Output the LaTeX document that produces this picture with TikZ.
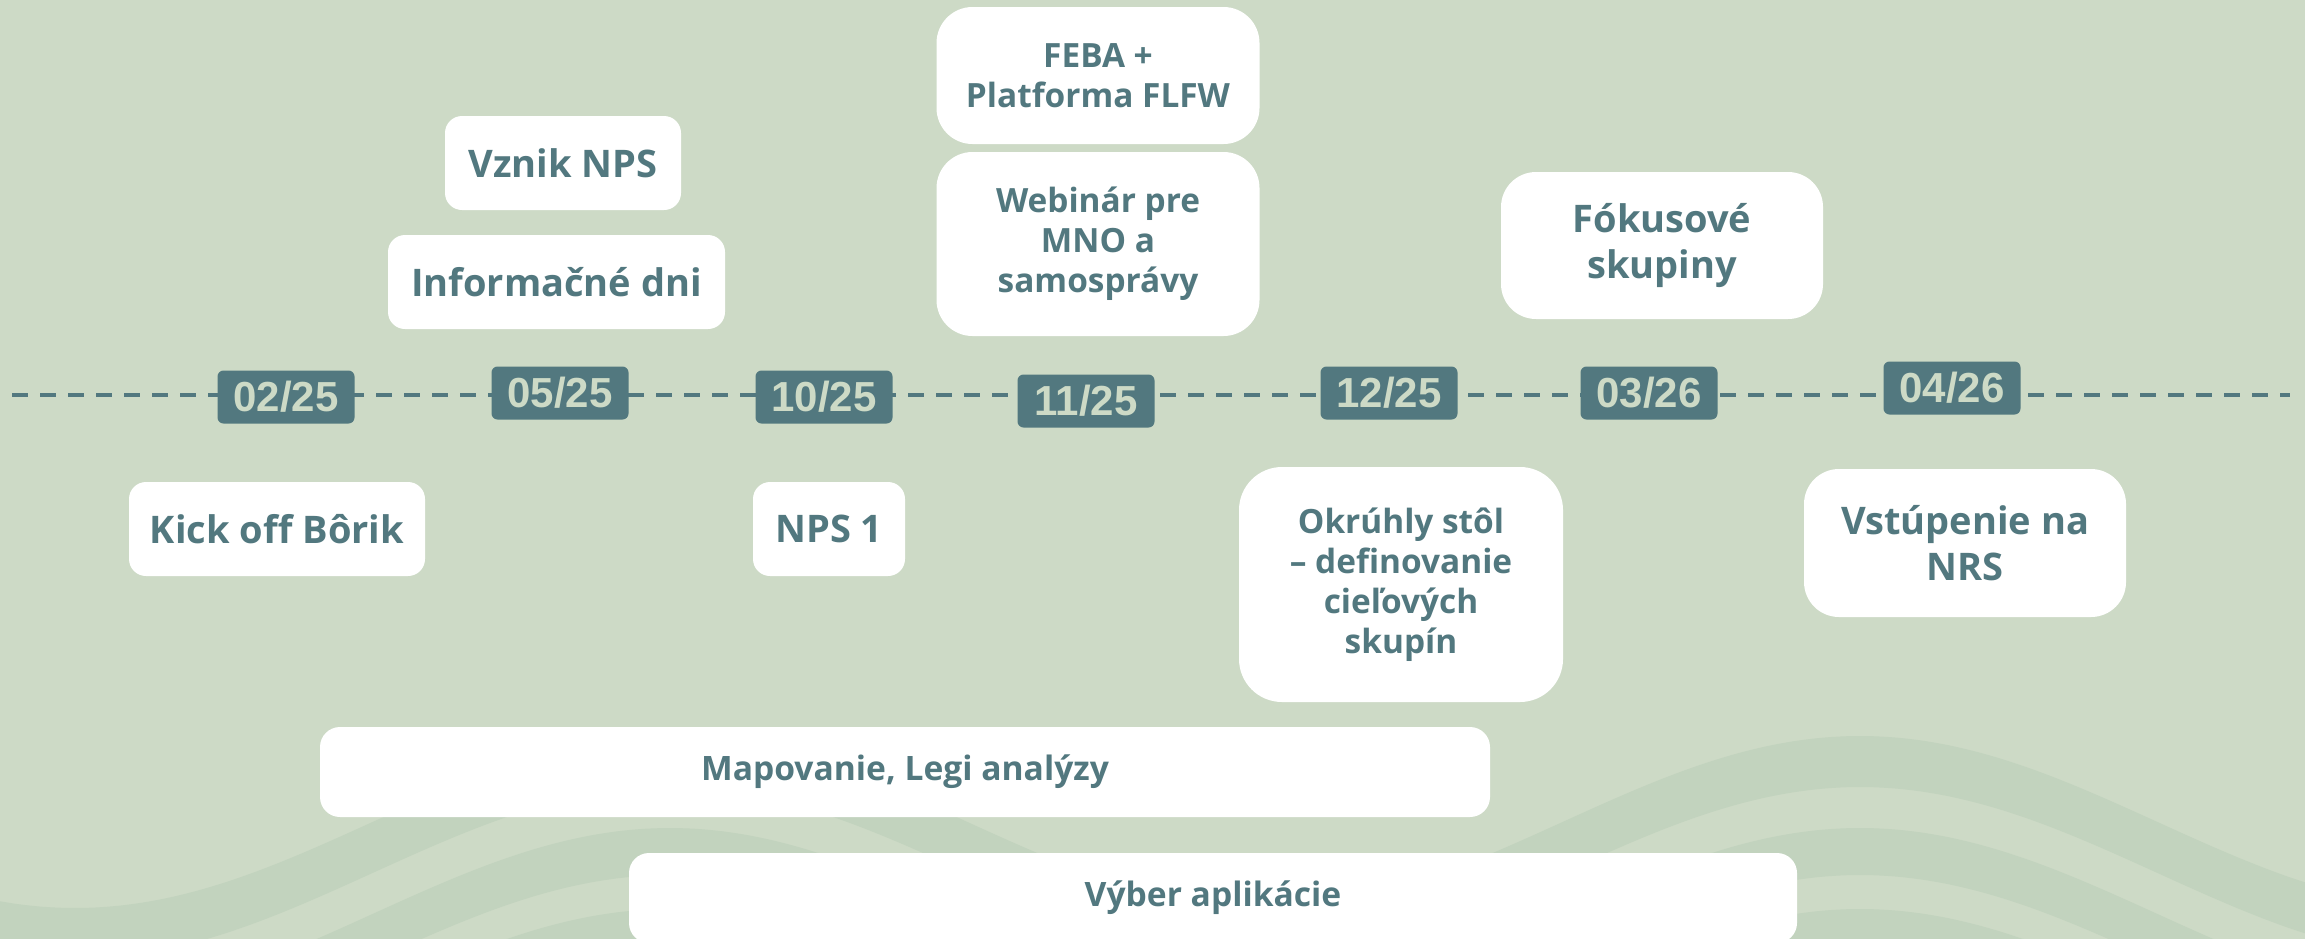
\documentclass[tikz,border=0pt]{standalone}
\usepackage{fontspec}
\setmainfont{Open Sans}
\newfontfamily\datefont{Liberation Sans}
\usetikzlibrary{calc}

\definecolor{bggreen}{HTML}{CDDAC6}
\definecolor{wavegreen}{HTML}{C2D3BE}
\definecolor{slateteal}{HTML}{52787F}

\begin{document}
\begin{tikzpicture}[x=0.5pt,y=-0.5pt]

		\tikzstyle{every node}=[text=slateteal]
		\tikzstyle{event}=[fill=white, rounded corners=8.5pt, align=center, inner sep=0pt, font=\fontsize{19}{23}\selectfont\bfseries]
		\tikzstyle{bigevent}=[event, rounded corners=18pt, font=\fontsize{16.7}{20}\selectfont\bfseries]
		\tikzstyle{barbox}=[event, rounded corners=10pt, font=\fontsize{16.8}{20}\selectfont\bfseries]
		\tikzstyle{datebox}=[fill=slateteal, text=bggreen, rounded corners=3pt, minimum width=68.5pt, minimum height=26.5pt, inner sep=0pt, font=\datefont\fontsize{21}{24}\selectfont\bfseries]

		\useasboundingbox (0,0) rectangle (2305,938);
		\fill[bggreen] (-10,-10) rectangle (2315,948);

		% waves in the background
		\begin{scope}
		\clip (-10,-10) rectangle (2315,948);
		\foreach \a/\b in {0/51, 92/139, 173/260}
			\fill[wavegreen] plot[domain=-10:2315, samples=90, smooth] (\x,{822-86*cos(0.30252*(\x-670))+\a})
				-- plot[domain=2315:-10, samples=90, smooth] (\x,{822-86*cos(0.30252*(\x-670))+\b}) -- cycle;
		\end{scope}

		%\draw[style=help lines, step=100, color=gray] (0,0) grid (2305,938);

		% timeline
		\coordinate (tlstart) at (12,395);
		\coordinate (tlend) at (2290,395);
		\draw[slateteal, line width=2pt, dash pattern=on 8pt off 6pt] (tlstart) -- (tlend);

		\node[datebox] (d0225) at (286,397) {02/25};
		\node[datebox] (d0525) at (560,393) {05/25};
		\node[datebox] (d1025) at (824,397) {10/25};
		\node[datebox] (d1125) at (1086,401) {11/25};
		\node[datebox] (d1225) at (1389,393) {12/25};
		\node[datebox] (d0326) at (1649,393) {03/26};
		\node[datebox] (d0426) at (1952,388) {04/26};

		% events above the line
		\node[event, minimum width=118pt, minimum height=47pt] (vznik) at (563,163) {Vznik NPS};
		\node[event, minimum width=168.5pt, minimum height=47pt] (info) at (556.5,282) {Informačné dni};
		\node[bigevent, minimum width=161.5pt, minimum height=68.5pt] (feba) at (1098,75.5) {FEBA +\\Platforma FLFW};
		\node[bigevent, minimum width=161.5pt, minimum height=92pt] (webinar) at (1098,244) {Webinár pre\\MNO a\\samosprávy};
		\node[event, rounded corners=17.5pt, minimum width=161pt, minimum height=73.5pt] (fokus) at (1662,245.5) {Fókusové\\skupiny};

		% events below the line
		\node[event, minimum width=148pt, minimum height=47pt] (kickoff) at (277,529) {Kick off Bôrik};
		\node[event, minimum width=76pt, minimum height=47pt] (nps1) at (829,529) {NPS 1};
		\node[bigevent, rounded corners=21.5pt, minimum width=162pt, minimum height=117.5pt] (okruhly) at (1401,584.5) {Okrúhly stôl\\– definovanie\\cieľových\\skupín};
		\node[event, rounded corners=17.5pt, minimum width=161pt, minimum height=74pt] (vstup) at (1965,543) {Vstúpenie na\\NRS};

		% long activities
		\node[barbox, minimum width=585pt, minimum height=45pt] (mapovanie) at (905,772) {Mapovanie, Legi analýzy};
		\node[barbox, minimum width=584pt, minimum height=45pt] (vyber) at (1213,898) {Výber aplikácie};

\end{tikzpicture}
\end{document}
